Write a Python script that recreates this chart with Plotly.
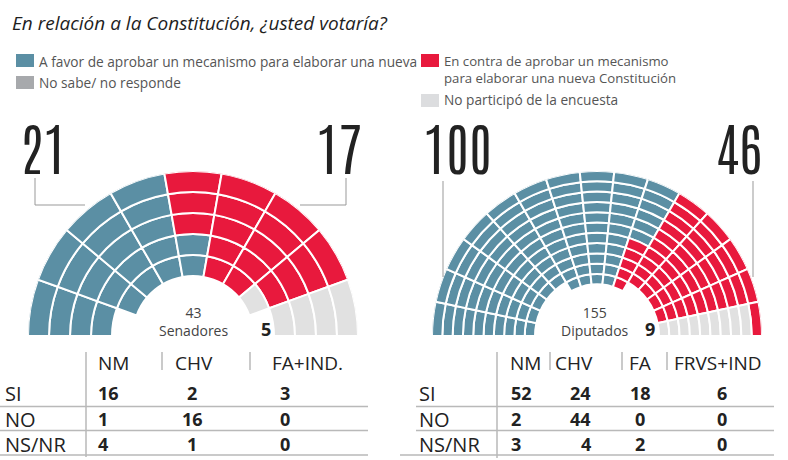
import plotly.graph_objects as go

W, H = 788, 460

# ---------------- data ----------------
title = "En relación a la Constitución, ¿usted votaría?"
legend_items = [
    "A favor de aprobar un mecanismo para elaborar una nueva",
    "No sabe/ no responde",
    "En contra de aprobar un mecanismo<br>para elaborar una nueva Constitución",
    "No participó de la encuesta",
]
row_labels = ["SI", "NO", "NS/NR"]

sen_parties = ["NM", "CHV", "FA+IND."]
sen_si = [16, 2, 3]
sen_no = [1, 16, 0]
sen_ns = [4, 1, 0]
sen_name = "Senadores"

dip_parties = ["NM", "CHV", "FA", "FRVS+IND"]
dip_si = [52, 24, 18, 6]
dip_no = [2, 44, 0, 0]
dip_ns = [3, 4, 2, 0]
dip_name = "Diputados"

# ---------------- style ----------------
BLUE = "#5b8fa4"
RED = "#e8193d"
GRAY = "#a7a9ac"
LGRAY = "#e1e1e1"
LEG_LGRAY = "#dcdddf"
TXT = "#222222"
SOFT = "#555555"
LINE = "#b9b9b9"
FONT = "Open Sans, Lato, sans-serif"
BIG = "Antonio, Oswald, Roboto Condensed, sans-serif"


def px(x):
    return x / W


def py(y):
    return 1 - y / H


def seat_layout(rings, n_blue, n_red, n_gray, blue_inner, R, thick):
    ncol = len(rings)
    colw = 180.0 / ncol
    assign = [[None] * k for k in rings]
    g = n_gray
    for c in range(ncol - 1, -1, -1):
        for i in range(rings[c]):
            if g > 0:
                assign[c][i] = "gray"
                g -= 1
    b = n_blue
    for c in range(ncol):
        order = range(rings[c]) if blue_inner else range(rings[c] - 1, -1, -1)
        for i in order:
            if b > 0 and assign[c][i] is None:
                assign[c][i] = "blue"
                b -= 1
    out = {"blue": ([], [], []), "red": ([], [], []), "gray": ([], [], [])}
    for c in range(ncol):
        th = 180 - (c + 0.5) * colw
        for i in range(rings[c]):
            kind = assign[c][i] or "red"
            base = R - rings[c] * thick + i * thick
            out[kind][0].append(thick)
            out[kind][1].append(base)
            out[kind][2].append(th)
    return out, colw


fig = go.Figure()

chambers = [
    dict(si=sen_si, no=sen_no, ns=sen_ns, rings=[4, 5, 5, 5, 5, 5, 5, 5, 4],
         blue_inner=True, thick=21.0, polar="polar"),
    dict(si=dip_si, no=dip_no, ns=dip_ns, rings=[10] * 5 + [11] * 5 + [10] * 5,
         blue_inner=False, thick=10.3, polar="polar2"),
]
R = 165
CY = 336
colors = {"blue": BLUE, "red": RED, "gray": LGRAY}
for ch in chambers:
    nb, nr, ng = sum(ch["si"]), sum(ch["no"]), sum(ch["ns"])
    seats, colw = seat_layout(ch["rings"], nb, nr, ng, ch["blue_inner"], R, ch["thick"])
    for kind in ["blue", "red", "gray"]:
        r, base, th = seats[kind]
        fig.add_trace(go.Barpolar(
            r=r, base=base, theta=th, width=[colw] * len(r),
            marker=dict(color=colors[kind], line=dict(color="white", width=2)),
            subplot=ch["polar"], hoverinfo="skip", showlegend=False))


def polar_layout(cx):
    return dict(
        domain=dict(x=[px(cx - R), px(cx + R)], y=[py(CY), py(CY - R)]),
        sector=[0, 180], hole=0, bgcolor="rgba(0,0,0,0)",
        radialaxis=dict(visible=False, range=[0, R]),
        angularaxis=dict(visible=False, rotation=0, direction="counterclockwise"),
    )


shapes = []
annotations = []


def text(x, y, s, size, color=TXT, xanchor="left", family=FONT, weight=None, style=None):
    f = dict(family=family, size=size, color=color)
    if weight:
        f["weight"] = weight
    if style:
        f["style"] = style
    annotations.append(dict(x=px(x), y=py(y), xref="paper", yref="paper", text=s,
                            showarrow=False, xanchor=xanchor, yanchor="middle",
                            align=xanchor if xanchor != "center" else "center",
                            font=f))


def rect(x0, y0, x1, y1, color):
    shapes.append(dict(type="rect", xref="paper", yref="paper", x0=px(x0), x1=px(x1),
                       y0=py(y1), y1=py(y0), fillcolor=color, line=dict(width=0)))


def line(x0, y0, x1, y1, color=LINE, width=1.5):
    shapes.append(dict(type="line", xref="paper", yref="paper", x0=px(x0), x1=px(x1),
                       y0=py(y0), y1=py(y1), line=dict(color=color, width=width)))


# title
text(10, 23, title, 19, color="#1e1e1e", style="italic")

# legend
rect(16, 54, 34, 67, BLUE)
text(37, 61, legend_items[0], 13.7, SOFT)
rect(16, 76, 34, 89, GRAY)
text(37, 83, legend_items[1], 13.7, SOFT)
rect(421, 54, 439, 67, RED)
text(442, 69, legend_items[2], 13.2, SOFT)
rect(421, 94, 439, 107, LEG_LGRAY)
text(442, 100, legend_items[3], 13.7, SOFT)

# big numbers + leader lines
text(42.5, 146, str(sum(sen_si)), 56, TXT, "center", BIG, 300)
text(338.5, 146, str(sum(sen_no)), 56, TXT, "center", BIG, 300)
text(457.5, 146, str(sum(dip_si)), 56, TXT, "center", BIG, 300)
text(738.5, 146, str(sum(dip_no)), 56, TXT, "center", BIG, 300)
line(35, 178, 35, 205, "#999999", 1)
line(35, 205, 85, 205, "#999999", 1)
line(346, 178, 346, 205, "#999999", 1)
line(346, 205, 300, 205, "#999999", 1)
line(443, 181, 443, 277, "#999999", 1)
line(753, 181, 753, 277, "#999999", 1)

# centre labels
sen_total = sum(sen_si) + sum(sen_no) + sum(sen_ns)
dip_total = sum(dip_si) + sum(dip_no) + sum(dip_ns)
text(193, 321.5, f"{sen_total}<br>{sen_name}", 14, "#444444", "center")
text(266, 329, str(sum(sen_ns)), 18, TXT, "center", weight=700)
text(595, 321.5, f"{dip_total}<br>{dip_name}", 14, "#444444", "center")
text(650, 329, str(sum(dip_ns)), 18, TXT, "center", weight=700)

# tables
ROWS_Y = [393, 419, 444]
HEAD_Y = 363
for i, lab in enumerate(row_labels):
    text(3, ROWS_Y[i], lab, 20, TXT)
sen_head_x = [(96, "left"), (173, "left"), (270, "left")]
sen_val_x = [(96, "left"), (192, "center"), (285, "center")]
for j, p in enumerate(sen_parties):
    text(sen_head_x[j][0], HEAD_Y, p, 19, TXT, sen_head_x[j][1])
    for i, vals in enumerate([sen_si, sen_no, sen_ns]):
        text(sen_val_x[j][0], ROWS_Y[i], str(vals[j]), 18, TXT, sen_val_x[j][1], weight=700)
line(86, 352, 86, 457)
line(162, 352, 162, 370)
line(250, 352, 250, 370)
for yy in [406.5, 430.5, 455]:
    line(0, yy, 368, yy)
for i, lab in enumerate(row_labels):
    text(417, ROWS_Y[i], lab, 20, TXT)
dip_head_x = [(508, "left"), (553, "left"), (640, "center"), (672, "left")]
dip_val_x = [(509, "left"), (593, "right"), (640, "center"), (722, "center")]
for j, p in enumerate(dip_parties):
    text(dip_head_x[j][0], HEAD_Y, p, 19, TXT, dip_head_x[j][1])
    for i, vals in enumerate([dip_si, dip_no, dip_ns]):
        text(dip_val_x[j][0], ROWS_Y[i], str(vals[j]), 18, TXT, dip_val_x[j][1], weight=700)
line(497, 352, 497, 458)
line(550, 352, 550, 370)
line(622, 352, 622, 370)
line(667, 352, 667, 370)
for yy in [406.5, 430.5]:
    line(416, yy, 774, yy)
line(400, 455, 774, 455)

fig.update_layout(
    width=W, height=H, margin=dict(l=0, r=0, t=0, b=0),
    paper_bgcolor="white", plot_bgcolor="white",
    polar=polar_layout(193), polar2=polar_layout(597),
    shapes=shapes, annotations=annotations, showlegend=False,
)
fig.write_html("out.html", config={"displayModeBar": False},
               post_script="document.body.style.margin='0';document.body.style.overflow='hidden';")
